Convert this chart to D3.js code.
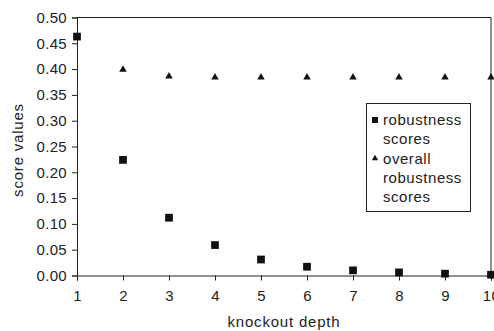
<!DOCTYPE html>
<html>
<head>
<meta charset="utf-8">
<script src="https://cdn.jsdelivr.net/npm/d3@7"></script>
<style>
  body { margin: 0; background: #fff; }
  text { font-family: "Liberation Sans", Arial, sans-serif; fill: #222; }
</style>
</head>
<body>
<svg width="494" height="331"></svg>
<script>
    var depths = [1, 2, 3, 4, 5, 6, 7, 8, 9, 10];
    var robustness = [0.463, 0.224, 0.112, 0.059, 0.031, 0.017, 0.010, 0.006, 0.0035, 0.0015];
    var overallDepths = [2, 3, 4, 5, 6, 7, 8, 9, 10];
    var overall = [0.399, 0.386, 0.384, 0.384, 0.384, 0.384, 0.384, 0.384, 0.384];
    var yTicks = [0, 0.05, 0.10, 0.15, 0.20, 0.25, 0.30, 0.35, 0.40, 0.45, 0.50];
    var legendLines = [["robustness", "scores"], ["overall", "robustness", "scores"]];

    var svg = d3.select("svg");
    var plotLeft = 77, plotRight = 491, plotTop = 17.5, plotBottom = 275.5;

    var x = d3.scaleLinear().domain([1, 10]).range([plotLeft, plotRight]);
    var y = d3.scaleLinear().domain([0, 0.5]).range([plotBottom, plotTop]);

    // frame top/right
    svg.append("path")
        .attr("d", "M" + plotLeft + "," + plotTop + "H" + plotRight + "V" + plotBottom)
        .attr("fill", "none")
        .attr("stroke", "#222")
        .attr("stroke-width", 1);

    var yAxis = svg.append("g")
        .attr("transform", "translate(" + plotLeft + ",0)")
        .call(d3.axisLeft(y).tickValues(yTicks).tickSize(5).tickPadding(5)
            .tickFormat(d3.format(".2f")));

    var xAxis = svg.append("g")
        .attr("transform", "translate(0," + plotBottom + ")")
        .call(d3.axisBottom(x).tickValues(depths).tickSize(5).tickPadding(10)
            .tickFormat(d3.format("d")));

    [yAxis, xAxis].forEach(function(a) {
        a.select(".domain").attr("stroke", "#222");
        a.selectAll(".tick line").attr("stroke", "#222");
        a.selectAll("text").style("font-size", "15px")
            .style("letter-spacing", "0.3px")
            .style("font-family", "'Liberation Sans', Arial, sans-serif")
            .attr("fill", "#222");
    });

    svg.append("text")
        .attr("x", (plotLeft + plotRight) / 2)
        .attr("y", 327)
        .attr("text-anchor", "middle")
        .style("font-size", "15px")
        .style("letter-spacing", "0.8px")
        .text("knockout depth");

    svg.append("text")
        .attr("transform", "translate(23,150) rotate(-90)")
        .attr("text-anchor", "middle")
        .style("font-size", "15px")
        .style("letter-spacing", "0.8px")
        .text("score values");

    var sq = d3.symbol().type(d3.symbolSquare).size(60);
    var tri = d3.symbol().type(d3.symbolTriangle).size(24);

    svg.selectAll("path.sq").data(depths)
        .enter().append("path")
        .attr("class", "sq")
        .attr("d", sq)
        .attr("fill", "#111")
        .attr("transform", function(d, i) { return "translate(" + x(d) + "," + y(robustness[i]) + ")"; });

    svg.selectAll("path.tri").data(overallDepths)
        .enter().append("path")
        .attr("class", "tri")
        .attr("d", tri)
        .attr("fill", "#111")
        .attr("transform", function(d, i) { return "translate(" + x(d) + "," + y(overall[i]) + ")"; });

    // legend
    var lg = svg.append("g");
    lg.append("rect")
        .attr("x", 366.5).attr("y", 103.5)
        .attr("width", 104).attr("height", 108)
        .attr("fill", "#fff").attr("stroke", "#222");

    var lineH = 19.2;
    var row = 0;
    legendLines.forEach(function(lines, k) {
        var cy = 120 + row * lineH;
        lg.append("path")
            .attr("d", k === 0 ? d3.symbol().type(d3.symbolSquare).size(36)() : d3.symbol().type(d3.symbolTriangle).size(18)())
            .attr("fill", "#111")
            .attr("transform", "translate(375," + cy + ")");
        lines.forEach(function(t) {
            lg.append("text")
                .attr("x", 383)
                .attr("y", 120 + row * lineH)
                .attr("dy", "0.35em")
                .style("font-size", "15px")
                .style("letter-spacing", "0.55px")
                .text(t);
            row++;
        });
    });
</script>
</body>
</html>
